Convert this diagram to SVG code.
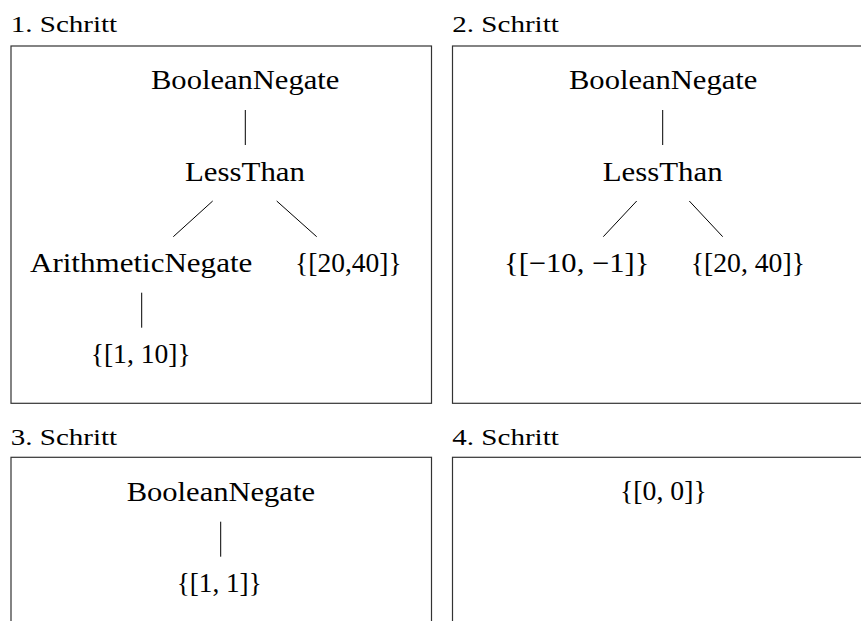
<svg xmlns="http://www.w3.org/2000/svg" width="861" height="621" viewBox="0 0 861 621">
<style>
.box{fill:none;stroke:#333;stroke-width:1.2}
.t{font-size:23px;fill:#000}
.n{font-size:27px;fill:#000}
.e{stroke:#000;stroke-width:1;fill:none}
</style>
<rect width="861" height="621" fill="#fff"/>
<g font-family="Liberation Serif">
<g id="panel1">
<text class="t" x="10.7" y="32.3" textLength="106.5" lengthAdjust="spacingAndGlyphs">1. Schritt</text>
<rect class="box" x="11" y="46" width="420.5" height="357.3"/>
</g>
<g id="panel2">
<text class="t" x="452.3" y="32.3" textLength="106.5" lengthAdjust="spacingAndGlyphs">2. Schritt</text>
<rect class="box" x="452.5" y="46" width="420" height="357.3"/>
</g>
<g id="panel3">
<text class="t" x="10.7" y="445" textLength="106.5" lengthAdjust="spacingAndGlyphs">3. Schritt</text>
<rect class="box" x="11" y="457.3" width="420.5" height="200"/>
</g>
<g id="panel4">
<text class="t" x="452.3" y="445" textLength="106.5" lengthAdjust="spacingAndGlyphs">4. Schritt</text>
<rect class="box" x="452.5" y="457.3" width="420" height="200"/>
</g>
<g id="connectors">
<line class="e" x1="245.3" y1="110" x2="245.3" y2="145"/>
<line class="e" x1="212.7" y1="201" x2="173.3" y2="236.7"/>
<line class="e" x1="276.7" y1="201" x2="316.7" y2="236.7"/>
<line class="e" x1="141.7" y1="292.7" x2="141.7" y2="327.7"/>
<line class="e" x1="662.7" y1="110" x2="662.7" y2="145"/>
<line class="e" x1="636.7" y1="201" x2="603.3" y2="236.7"/>
<line class="e" x1="689.3" y1="201" x2="722.7" y2="236.7"/>
<line class="e" x1="220.7" y1="521.7" x2="220.7" y2="556.7"/>
</g>
<g id="p1-booleannegate"><text class="n" x="151" y="89.3" textLength="188.3" lengthAdjust="spacingAndGlyphs">BooleanNegate</text></g>
<g id="p1-lessthan"><text class="n" x="185" y="181" textLength="120" lengthAdjust="spacingAndGlyphs">LessThan</text></g>
<g id="p1-arithmeticnegate"><text class="n" x="30" y="272.3" textLength="222.3" lengthAdjust="spacingAndGlyphs">ArithmeticNegate</text></g>
<g id="p1-set2040"><text class="n" x="295" y="272.3" textLength="106.7" lengthAdjust="spacingAndGlyphs">{[20,40]}</text></g>
<g id="p1-set110"><text class="n" x="90.7" y="363.3" textLength="100" lengthAdjust="spacingAndGlyphs">{[1, 10]}</text></g>
<g id="p2-booleannegate"><text class="n" x="569" y="89.3" textLength="188.3" lengthAdjust="spacingAndGlyphs">BooleanNegate</text></g>
<g id="p2-lessthan"><text class="n" x="602.7" y="181" textLength="120" lengthAdjust="spacingAndGlyphs">LessThan</text></g>
<g id="p2-setneg"><text class="n" x="504" y="272.3" textLength="145.3" lengthAdjust="spacingAndGlyphs">{[−10, −1]}</text></g>
<g id="p2-set2040"><text class="n" x="690.7" y="272.3" textLength="114.3" lengthAdjust="spacingAndGlyphs">{[20, 40]}</text></g>
<g id="p3-booleannegate"><text class="n" x="126.7" y="500.7" textLength="188.3" lengthAdjust="spacingAndGlyphs">BooleanNegate</text></g>
<g id="p3-set11"><text class="n" x="176.7" y="591.7" textLength="85" lengthAdjust="spacingAndGlyphs">{[1, 1]}</text></g>
<g id="p4-set00"><text class="n" x="620" y="500" textLength="86.7" lengthAdjust="spacingAndGlyphs">{[0, 0]}</text></g>
</g>
</svg>
